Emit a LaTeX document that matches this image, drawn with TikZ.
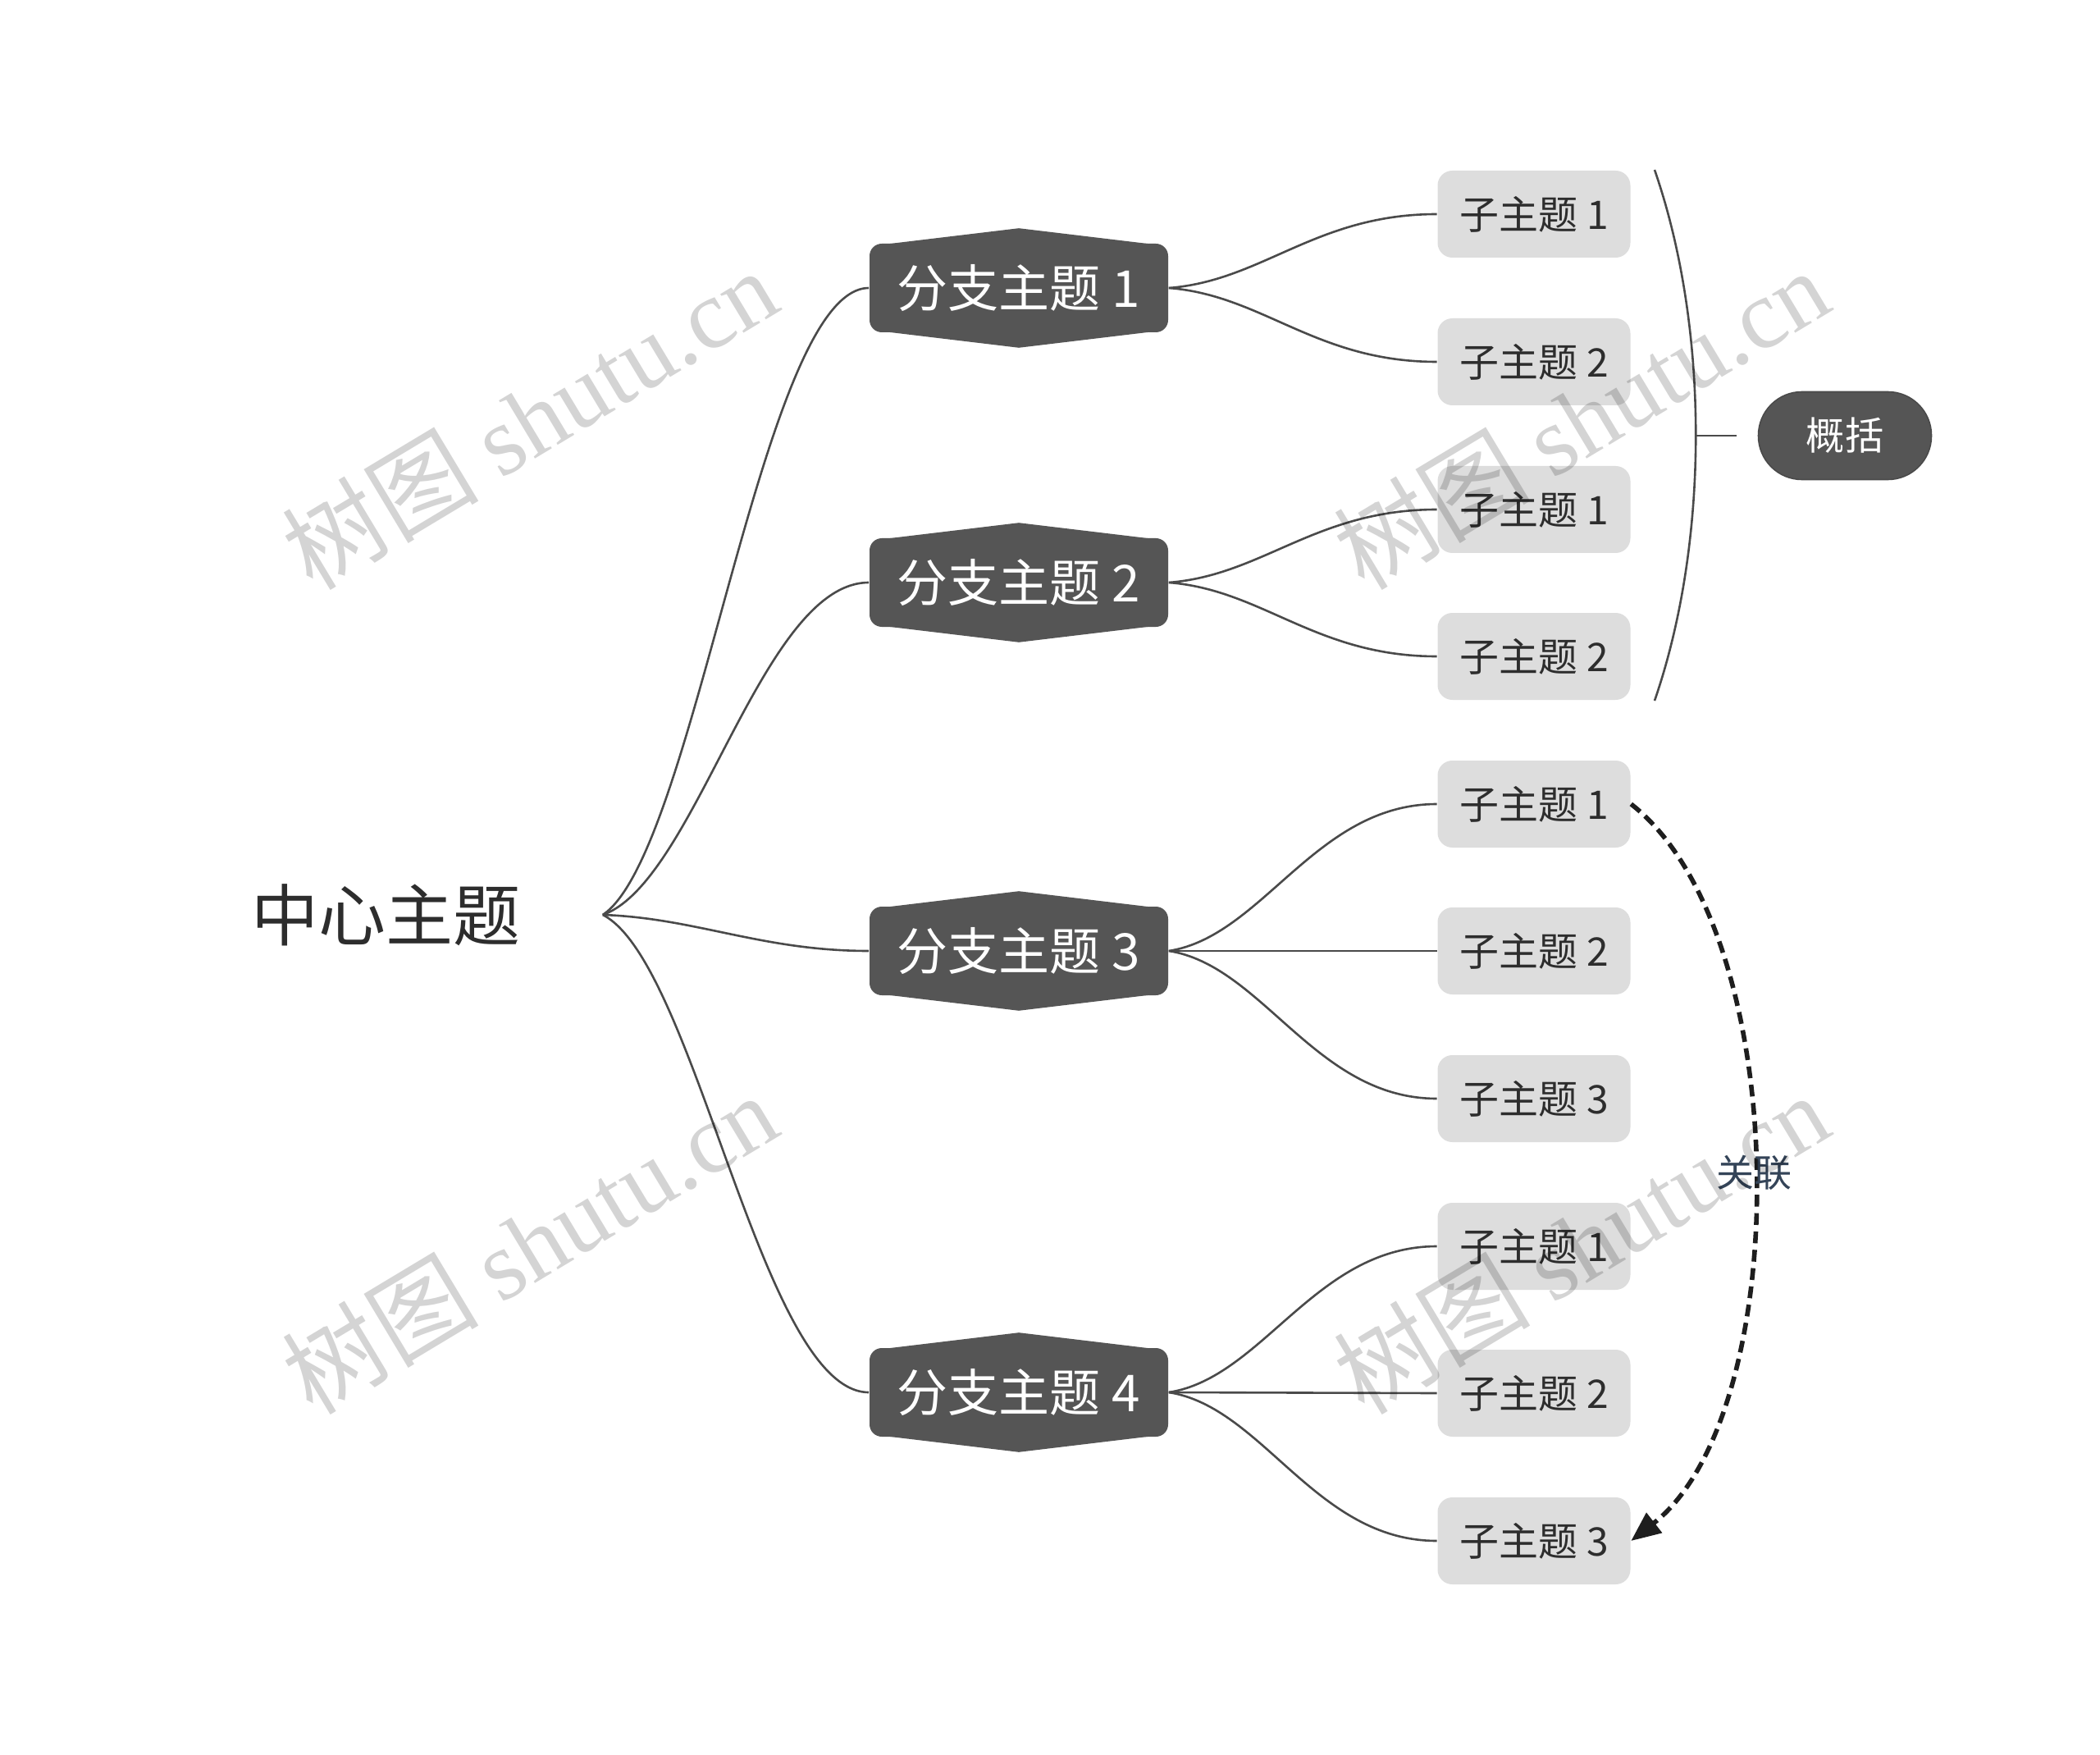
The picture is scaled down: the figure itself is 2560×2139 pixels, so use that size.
\documentclass[tikz,border=0pt]{standalone}
\usepackage{fontspec}
\setmainfont{Noto Sans CJK SC}
\newfontfamily\serifwm{Liberation Serif}
\usetikzlibrary{arrows.meta,positioning,calc}
\definecolor{ink}{RGB}{45,45,45}
\definecolor{linegray}{RGB}{74,74,74}
\definecolor{branchfill}{RGB}{85,85,85}
\definecolor{subfill}{RGB}{221,221,221}
\definecolor{reltext}{RGB}{52,68,88}
\definecolor{relline}{RGB}{30,30,30}

\begin{document}
\begin{tikzpicture}[
      x=0.25pt,y=-0.25pt,
      center/.style={text=ink,inner sep=0pt,
        font=\fontsize{20.5}{24}\selectfont},
      branch/.style={fill=branchfill,text=white,rounded corners=3.75pt,
        minimum width=91pt,minimum height=27pt,inner sep=0pt,
        font=\fontsize{15.5}{18}\selectfont},
      sub/.style={fill=subfill,text=ink,rounded corners=4.5pt,
        minimum width=58.75pt,minimum height=26.5pt,inner sep=0pt,
        font=\fontsize{12}{14}\selectfont},
      summ/.style={fill=branchfill,draw=linegray,text=white,
        rounded corners=13.3pt,minimum width=52.75pt,
        minimum height=26.75pt,inner sep=0pt,
        font=\fontsize{11.8}{14}\selectfont},
      link/.style={draw=linegray,line width=0.65pt},
      rel/.style={draw=relline,line width=1.4pt,
        dash pattern=on 3.6pt off 2pt,
        -{Triangle[length=9pt,width=7.5pt]}},
      watermark/.style={text=black,text opacity=0.17,rotate=31,
        font=\fontsize{30}{34}\selectfont}
    ]
      \fill[white](0,0) rectangle (2560,2139);

      % central topic
      \node[center](c) at (470,1115){中心主题};
      \coordinate[right=25pt of c](hub);

      % main branches
      \node[branch](b1) at (1242,351){分支主题 1};
      \node[branch](b2) at (1242,710){分支主题 2};
      \node[branch](b3) at (1242,1159){分支主题 3};
      \node[branch](b4) at (1242,1697){分支主题 4};
      \fill[branchfill]([shift={(4pt,-0.5pt)}]b1.north west)--([yshift=4.5pt]b1.north)
        --([shift={(-4pt,-0.5pt)}]b1.north east)--cycle
        ([shift={(4pt,0.5pt)}]b1.south west)--([yshift=-4.5pt]b1.south)
        --([shift={(-4pt,0.5pt)}]b1.south east)--cycle;
      \fill[branchfill]([shift={(4pt,-0.5pt)}]b2.north west)--([yshift=4.5pt]b2.north)
        --([shift={(-4pt,-0.5pt)}]b2.north east)--cycle
        ([shift={(4pt,0.5pt)}]b2.south west)--([yshift=-4.5pt]b2.south)
        --([shift={(-4pt,0.5pt)}]b2.south east)--cycle;
      \fill[branchfill]([shift={(4pt,-0.5pt)}]b3.north west)--([yshift=4.5pt]b3.north)
        --([shift={(-4pt,-0.5pt)}]b3.north east)--cycle
        ([shift={(4pt,0.5pt)}]b3.south west)--([yshift=-4.5pt]b3.south)
        --([shift={(-4pt,0.5pt)}]b3.south east)--cycle;
      \fill[branchfill]([shift={(4pt,-0.5pt)}]b4.north west)--([yshift=4.5pt]b4.north)
        --([shift={(-4pt,-0.5pt)}]b4.north east)--cycle
        ([shift={(4pt,0.5pt)}]b4.south west)--([yshift=-4.5pt]b4.south)
        --([shift={(-4pt,0.5pt)}]b4.south east)--cycle;

      % sub topics
      \node[sub](s11) at (1870,261){子主题 1};
      \node[sub](s12) at (1870,441){子主题 2};
      \node[sub](s21) at (1870,621){子主题 1};
      \node[sub](s22) at (1870,800){子主题 2};
      \node[sub](s31) at (1870,980){子主题 1};
      \node[sub](s32) at (1870,1159){子主题 2};
      \node[sub](s33) at (1870,1339){子主题 3};
      \node[sub](s41) at (1870,1519){子主题 1};
      \node[sub](s42) at (1870,1698){子主题 2};
      \node[sub](s43) at (1870,1878){子主题 3};

      \draw[link](hub) .. controls +(114,-76) and +(-131,0) .. (b1.west);
      \draw[link](hub) .. controls +(114,-40) and +(-131,0) .. (b2.west);
      \draw[link](hub) .. controls +(114,4) and +(-131,0) .. (b3.west);
      \draw[link](hub) .. controls +(114,58) and +(-131,0) .. (b4.west);

      \draw[link](b1.east) .. controls +(115,-9) and +(-148,0) .. (s11.west);
      \draw[link](b1.east) .. controls +(115,9) and +(-148,0) .. (s12.west);
      \draw[link](b2.east) .. controls +(115,-9) and +(-148,0) .. (s21.west);
      \draw[link](b2.east) .. controls +(115,9) and +(-148,0) .. (s22.west);
      \draw[link](b3.east) .. controls +(115,-18) and +(-148,0) .. (s31.west);
      \draw[link](b3.east)--(s32.west);
      \draw[link](b3.east) .. controls +(115,18) and +(-148,0) .. (s33.west);
      \draw[link](b4.east) .. controls +(115,-18) and +(-148,0) .. (s41.west);
      \draw[link](b4.east)--(s42.west);
      \draw[link](b4.east) .. controls +(115,18) and +(-148,0) .. (s43.west);

      % summary bracket
      \coordinate(brtop) at (2017,207);
      \coordinate(brbot) at (2017,854);
      \coordinate(brmid) at (2067,531);
      \draw[link](brtop) .. controls (2084,400) and (2084,660) .. (brbot);
      \node[summ](sm) at (2249,531){概括};
      \draw[link](brmid)--([xshift=-6.5pt]sm.west);

      % relation
      \draw[rel](s31.east) .. controls +(200,156) and +(200,-156) .. (s43.east)
        node[pos=0.5,text=reltext,font=\fontsize{11.5}{14}\selectfont](rl){关联};

      % watermarks
      \node[watermark](wm1) at (645,510){树图 {\serifwm shutu.cn}};
      \node[watermark](wm2) at (1927,510){树图 {\serifwm shutu.cn}};
      \node[watermark](wm3) at (645,1515){树图 {\serifwm shutu.cn}};
      \node[watermark](wm4) at (1927,1515){树图 {\serifwm shutu.cn}};
    \end{tikzpicture}
\end{document}
